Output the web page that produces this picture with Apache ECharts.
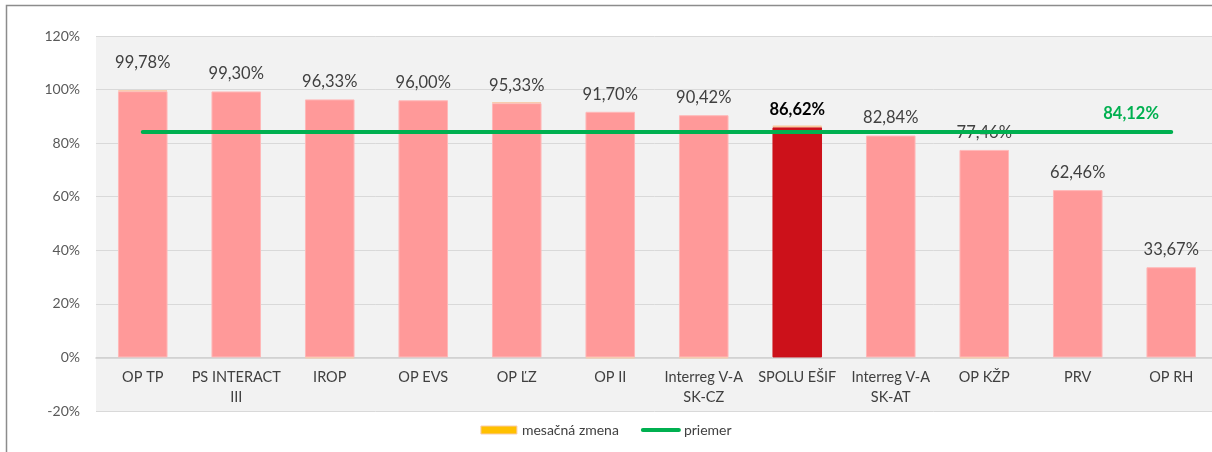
<!DOCTYPE html>
<html>
<head>
<meta charset="utf-8">
<script src="https://cdn.jsdelivr.net/npm/echarts@6/dist/echarts.min.js"></script>
<style>
  html, body { margin: 0; padding: 0; background: #fff; }
  #chart { width: 1212px; height: 452px; }
</style>
</head>
<body>
<div id="chart"></div>
<script>
// kategórie (operačné programy)
var categories = ['OP TP', 'PS INTERACT\nIII', 'IROP', 'OP EVS', 'OP ĽZ', 'OP II',
    'Interreg V-A\nSK-CZ', 'SPOLU EŠIF', 'Interreg V-A\nSK-AT', 'OP KŽP', 'PRV', 'OP RH'];
// celkové čerpanie v %
var totals = [99.78, 99.30, 96.33, 96.00, 95.33, 91.70, 90.42, 86.62, 82.84, 77.46, 62.46, 33.67];
// mesačná zmena v % (odhad z obrázka)
var changes = [0.4, 0, -0.3, 0, 0.4, -0.3, -0.3, 0.7, 0, -0.3, 0, 0];
// priemer
var average = 84.12;
var yTicks = { min: -20, max: 120, step: 20 };

var totalIndex = categories.indexOf('SPOLU EŠIF');

function pct(v) {
    return v.toFixed(2).replace('.', ',') + '%';
}

var chart = echarts.init(document.getElementById('chart'));

var baseData = totals.map(function (t, i) {
    var item = {
        value: +(t - Math.max(changes[i], 0)).toFixed(2),
        label: {}
    };
    if (i === totalIndex) {
        item.itemStyle = { color: '#CC111A', borderColor: '#CC111A' };
        item.label = { fontWeight: 'bold', color: '#000' };
    }
    if (i === 0) {
        item.label.distance = 20; // v origináli je popis posunutý vyššie
    }
    return item;
});

// nulové zmeny sa nekreslia
var changeData = changes.map(function (v) { return v === 0 ? null : v; });
var avgData = categories.map(function () { return average; });

var option = {
    backgroundColor: '#fff',
    textStyle: { fontFamily: 'Lato' },
    graphic: [{
        type: 'rect',
        shape: { x: 6.5, y: 5.5, width: 1230, height: 470 },
        style: { fill: 'none', stroke: '#8c8c8c', lineWidth: 1.5 },
        silent: true
    }],
    grid: {
        left: 96,
        top: 36,
        width: 1122,
        bottom: 41,
        outerBoundsMode: 'none',
        containLabel: false,
        show: true,
        backgroundColor: '#F2F2F2',
        borderWidth: 0
    },
    legend: {
        bottom: 10,
        left: 'center',
        itemGap: 22,
        textStyle: { color: '#404040', fontSize: 14, fontFamily: 'Lato' },
        data: [
            { name: 'mesačná zmena', icon: 'rect', itemStyle: { color: '#FFC000', borderColor: '#F8CBAD', borderWidth: 1 } },
            { name: 'priemer', itemStyle: { opacity: 0 }, lineStyle: { width: 4, color: '#00B050' } }
        ],
        itemWidth: 36,
        itemHeight: 8
    },
    xAxis: {
        type: 'category',
        data: categories,
        axisLine: { onZero: true, lineStyle: { color: '#D0D0D0', width: 1.5 } },
        axisTick: { show: false },
        axisLabel: {
            color: '#404040',
            fontSize: 14.5,
            fontFamily: 'Lato',
            margin: -44,  // popisy ležia pod nulovou čiarou
            lineHeight: 20,
            interval: 0
        }
    },
    yAxis: {
        type: 'value',
        min: yTicks.min,
        max: yTicks.max,
        interval: yTicks.step,
        axisLine: { show: false },
        axisTick: { show: false },
        splitLine: { lineStyle: { color: '#D9D9D9', width: 1 } },
        axisLabel: {
            formatter: '{value}%',
            color: '#595959',
            fontSize: 14,
            fontFamily: 'Lato',
            margin: 16
        }
    },
    series: [
        {
            name: 'čerpanie',
            type: 'bar',
            stack: 'a',
            barWidth: '53%',
            data: baseData,
            itemStyle: { color: '#FF9999', borderColor: '#FFB8B8', borderWidth: 1 },
            label: {
                show: true,
                position: 'top',
                distance: 9,
                color: '#404040',
                fontSize: 16.5,
                fontFamily: 'Lato',
                formatter: function (p) { return pct(totals[p.dataIndex]); }
            },
            emphasis: { disabled: true }
        },
        {
            name: 'mesačná zmena',
            type: 'bar',
            stack: 'a',
            barWidth: '53%',
            data: changeData,
            itemStyle: { color: '#FFC000', borderColor: '#F8CBAD', borderWidth: 1 },
            emphasis: { disabled: true }
        },
        {
            name: 'priemer',
            type: 'line',
            data: avgData,
            symbol: 'none',
            lineStyle: { color: '#00B050', width: 4, cap: 'round' },
            itemStyle: { color: '#00B050' },
            endLabel: {
                show: true,
                formatter: pct(average),
                offset: [-76, -18],
                color: '#00B050',
                fontWeight: 'bold',
                fontSize: 16.5,
                fontFamily: 'Lato'
            },
            z: 5
        }
    ]
};

chart.setOption(option);
</script>
</body>
</html>
